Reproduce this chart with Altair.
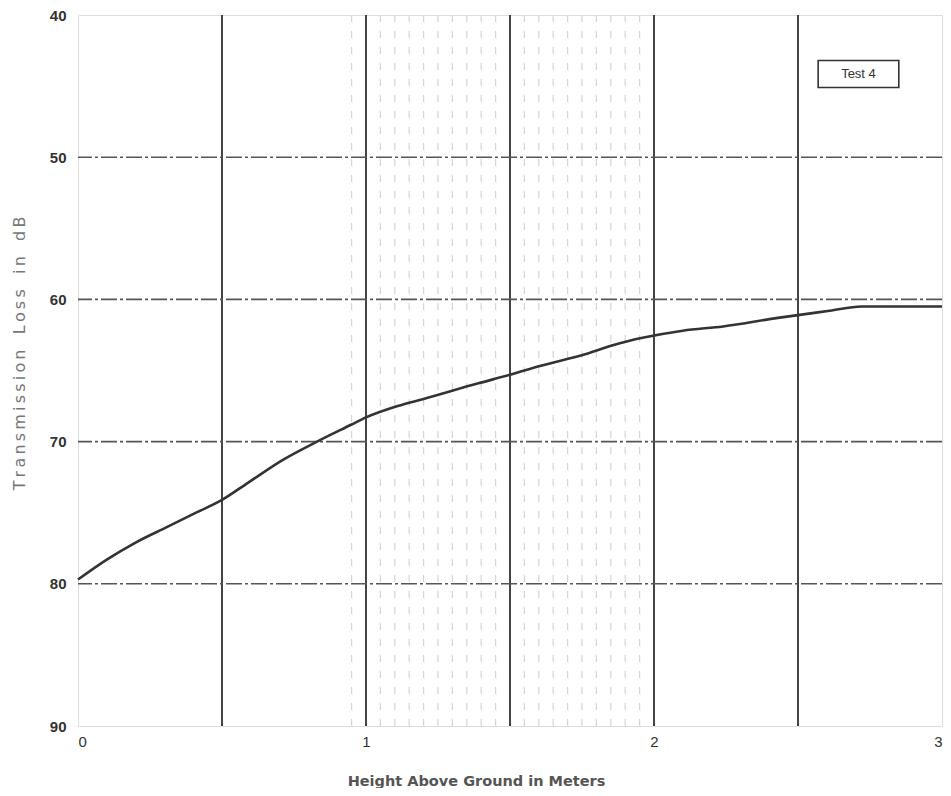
import altair as alt
import pandas as pd

# Curve
height_m = [0.0, 0.10, 0.20, 0.31, 0.41, 0.50, 0.59, 0.71, 0.83, 0.95, 1.00, 1.11, 1.20,
            1.39, 1.50, 1.60, 1.77, 1.86, 1.96, 2.10, 2.24, 2.43, 2.61, 2.72, 2.90, 3.00]
loss_db = [79.7, 78.3, 77.1, 76.0, 75.0, 74.1, 72.9, 71.3, 70.0, 68.8, 68.3, 67.5, 67.0,
           65.9, 65.3, 64.7, 63.8, 63.2, 62.7, 62.2, 61.9, 61.3, 60.8, 60.5, 60.5, 60.5]

x_grid = [0.5, 1.0, 1.5, 2.0, 2.5]
y_grid = [50, 60, 70, 80]
x_labels = [0, 1, 2, 3]
y_labels = [40, 50, 60, 70, 80, 90]
paper_lines = [round(0.95 + 0.05 * i, 2) for i in range(22)]

legend_text = ["Test 4"]
legend_box = {"x": [2.57], "x2": [2.85], "y": [43.2], "y2": [45.1]}

THIN = "\u2009"
GAP = "\u00a0\u00a0\u00a0"
y_words = ["Transmission", "Loss", "in", "dB"]
y_title = GAP.join(THIN.join(w) for w in y_words)
x_title = "Height Above Ground in Meters"

curve = pd.DataFrame({"h": height_m, "tl": loss_db})

xs = alt.Scale(domain=[0, 3], nice=False)
ys = alt.Scale(domain=[40, 90], reverse=True, nice=False)

paper = alt.Chart(pd.DataFrame({"x": paper_lines})).mark_rule(
    color="#d4d4d4", strokeWidth=1.2, strokeDash=[7, 9]
).encode(x=alt.X("x:Q", scale=xs))

vgrid = alt.Chart(pd.DataFrame({"x": x_grid})).mark_rule(
    color="#444444", strokeWidth=2
).encode(x=alt.X("x:Q", scale=xs))

hgrid = alt.Chart(pd.DataFrame({"y": y_grid})).mark_rule(
    color="#555555", strokeWidth=1.6, strokeDash=[16, 3, 3, 3]
).encode(y=alt.Y("y:Q", scale=ys))

line = alt.Chart(curve).mark_line(
    color="#333333", strokeWidth=2.6, interpolate="monotone"
).encode(
    x=alt.X("h:Q", scale=xs, title=x_title,
            axis=alt.Axis(values=x_labels, grid=False, ticks=False, domain=False,
                          labelFont="Liberation Sans", labelFontSize=15, labelColor="#333333",
                          labelPadding=8, format="d",
                          titleFont="DejaVu Sans", titleFontSize=14.5, titleFontWeight="bold",
                          titleColor="#555555", titleX=398, titleY=55,
                          titleAlign="center", titleBaseline="middle")),
    y=alt.Y("tl:Q", scale=ys, title=y_title,
            axis=alt.Axis(values=y_labels, grid=False, ticks=False, domain=False,
                          labelFont="Liberation Sans", labelFontSize=15, labelFontWeight="bold",
                          labelColor="#333333", labelPadding=12,
                          titleFont="DejaVu Sans", titleFontSize=16, titleFontWeight="normal",
                          titleColor="#777777", titleX=-59, titleY=338, titleAngle=-90,
                          titleAlign="center", titleBaseline="middle"))
)

box = alt.Chart(pd.DataFrame(legend_box)).mark_rect(
    fill="white", stroke="#333333", strokeWidth=1.6
).encode(x=alt.X("x:Q", scale=xs), x2="x2:Q", y=alt.Y("y:Q", scale=ys), y2="y2:Q")

label = alt.Chart(pd.DataFrame({"t": legend_text, "x": [2.71], "y": [44.15]})).mark_text(
    font="Liberation Sans", fontSize=13, color="#333333"
).encode(x=alt.X("x:Q", scale=xs), y=alt.Y("y:Q", scale=ys), text="t:N")

chart = alt.layer(paper, vgrid, hgrid, line, box, label).properties(
    width=864, height=711,
    autosize=alt.AutoSizeParams(type="none"),
    padding={"left": 70, "top": 7, "right": 1, "bottom": 62},
).configure_view(stroke="#444444", strokeWidth=2).configure(background="white")

chart.save("out.html", embed_options={"renderer": "svg", "actions": False})
